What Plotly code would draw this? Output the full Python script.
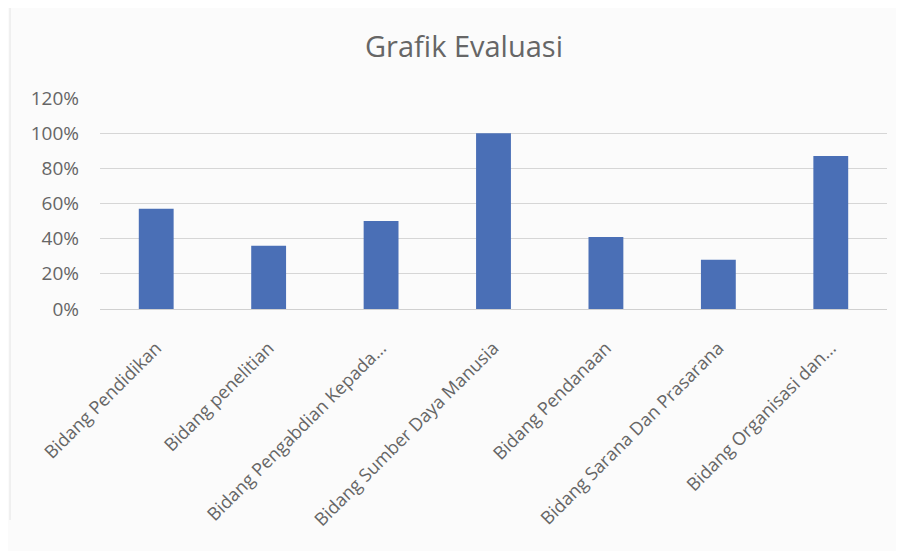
import plotly.graph_objects as go

categories = [
    "Bidang Pendidikan",
    "Bidang penelitian",
    "Bidang Pengabdian Kepada...",
    "Bidang Sumber Daya Manusia",
    "Bidang Pendanaan",
    "Bidang Sarana Dan Prasarana",
    "Bidang Organisasi dan...",
]
values = [0.57, 0.36, 0.50, 1.00, 0.41, 0.28, 0.87]
y_ticks = [0, 0.2, 0.4, 0.6, 0.8, 1.0, 1.2]
y_tick_labels = ["0%", "20%", "40%", "60%", "80%", "100%", "120%"]

# page body has an 8px margin, so the figure is placed at (8, 8)
W, H = 896, 543
L, T = 92, 90
PW = 787
fig = go.Figure(
    go.Bar(x=categories, y=values, marker=dict(color="#4a6fb6", line=dict(width=0)))
)
fig.update_layout(
    width=W,
    height=H,
    margin=dict(l=L, r=W - L - PW, t=T, b=242),
    paper_bgcolor="#fbfbfb",
    plot_bgcolor="#fbfbfb",
    bargap=0.69,
    showlegend=False,
    font=dict(family="Open Sans, sans-serif", color="#666666"),
    title=dict(
        text="Grafik Evaluasi",
        x=456 / W,
        xanchor="center",
        y=1 - 39 / H,
        yanchor="middle",
        font=dict(size=29, color="#666666"),
    ),
)
fig.update_yaxes(
    range=[0, 1.2],
    tickvals=y_ticks,
    ticktext=y_tick_labels,
    showgrid=True,
    gridcolor="#d6d6d6",
    gridwidth=1.2,
    zeroline=True,
    zerolinecolor="#d0d0d0",
    zerolinewidth=1.2,
    tickfont=dict(size=19, color="#666666"),
    ticks="",
    ticklabelstandoff=20,
)
fig.update_xaxes(
    tickangle=-45,
    tickfont=dict(size=18, color="#666666"),
    showgrid=False,
    ticks="",
    showline=False,
    ticklabelstandoff=24,
)
fig.add_shape(
    type="line", xref="paper", yref="paper",
    x0=(2 - L) / PW, x1=(2 - L) / PW, y0=-1, y1=2,
    line=dict(color="#e4e4e4", width=1),
)
fig.write_html("out.html")
